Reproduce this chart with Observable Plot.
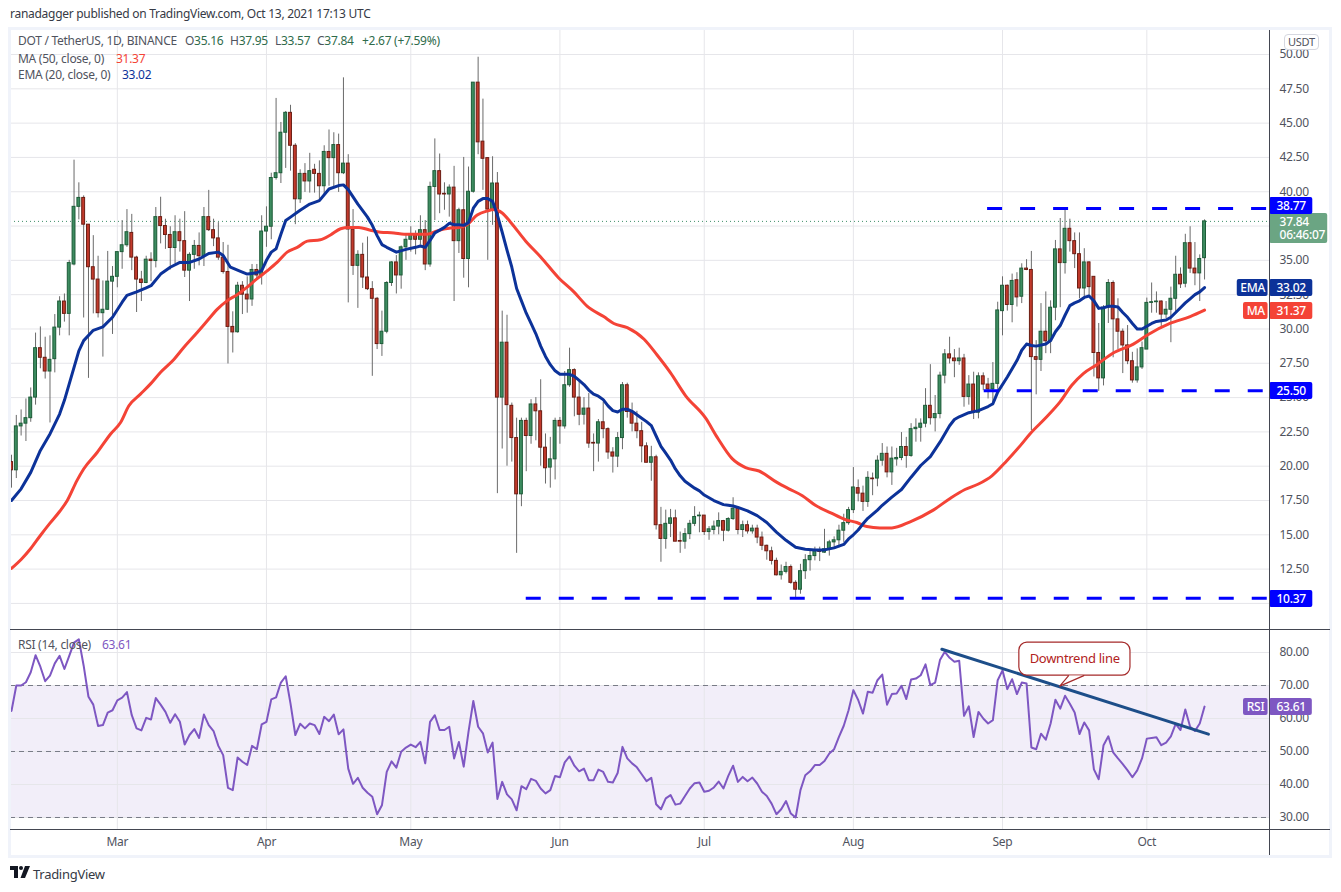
<!DOCTYPE html>
<html><head><meta charset="utf-8">
<script src="https://cdn.jsdelivr.net/npm/d3@7"></script>
<script src="https://cdn.jsdelivr.net/npm/@observablehq/plot@0.6"></script>
<style>
html,body{margin:0;padding:0;background:#fff;}
#page{position:relative;width:1341px;height:892px;overflow:hidden;font-family:"Noto Sans",sans-serif;font-size:12px;color:#50535e;letter-spacing:-0.28px;}
#page svg{position:absolute;left:0;background:transparent;}
.t{position:absolute;white-space:nowrap;z-index:5;line-height:16px;}
.ln{position:absolute;background:#434651;z-index:4;}
</style></head><body><div id="page"></div>
<script>
const opens=[20.3,19.7,22.9,23.1,23.5,25,28.6,27.9,26.9,27.8,
30.1,32,31.1,34.7,38.9,39.55,37.6,34.5,33.6,31.15,
31.4,33.45,33.8,35.6,36.1,37,35.2,33.6,33.35,35.05,
34.95,38.15,37.5,36.85,35.9,37.05,36.4,34.25,35.4,36.05,
35.3,38.15,37.2,36.6,35.2,34.15,30.15,29.76,33.15,32.5,
32.15,34.3,33.9,37.1,37.45,41,41.35,44.3,45.75,43.35,
39.45,41.3,40.75,41.6,41.3,40.4,42.9,42.45,43.4,41.35,
42.05,37.25,34.6,35.4,33.75,32.9,32.2,28.9,29.8,33.35,
34.85,33.9,35.95,36.5,36.85,36.5,37.2,34.7,40.35,41.5,
39.85,39.8,40.3,36.4,38.65,35.1,40,47.95,43.65,42.45,
38.7,40.6,25,29,24.4,22.05,17.95,23.3,22.2,24.5,
24,21.35,19.9,20.5,23.3,22.9,25.9,27,25,23.75,
24.2,21.7,21.65,23.2,22.7,21,20.7,22.05,25.9,23.95,
23.1,22.55,21.45,20.25,20.65,15.7,14.7,15.8,16.2,14.55,
14.5,15.05,15.8,16.35,16.4,15.2,15.35,15.6,16,15.3,
16.15,16.9,15.35,15.7,15.25,15.45,14.8,14.2,13.8,13.1,
12.05,12.3,12.65,11.5,11,12.35,13.15,13.45,13.85,13.7,
13.95,14.45,14.6,15.3,15.85,16.8,18.4,18,17.4,19.1,
19.1,20.4,20.9,19.55,20.5,20.6,21.4,20.75,22.7,22.8,
23.1,24.4,23.5,23.8,26.6,28.15,27.85,27.65,27.85,25.05,
25.95,23.9,26.55,25.95,25.6,26,31.3,33.15,31.75,33.55,
32.35,34.4,34.3,27.95,27.75,29.8,29.1,31.55,35.8,34.8,
37.3,36.4,35.45,32.95,34.85,33.8,28.25,26.4,31.55,33.35,
30.7,29.8,28.8,27.65,26.25,27.2,28.5,31.9,31.95,32,
31.05,31.4,32.2,33.95,33.3,36.25,34.4,34.05,35.16];
const closes=[19.7,22.9,23.1,23.5,25,28.6,27.9,26.9,27.75,30.1,
32,31.1,34.8,38.9,39.55,37.6,34.5,33.6,31.15,31.4,
33.45,33.8,35.6,36.1,37.05,35.2,33.6,33.35,35.05,34.95,
38.15,37.5,36.85,35.9,37.05,36.4,34.25,35.4,36.05,35.3,
38.15,37.2,36.6,35.2,34.15,30.15,29.75,33.15,32.5,32.15,
34.3,33.9,37.1,37.45,41,41.35,44.3,45.75,43.35,39.45,
41.3,40.75,41.5,41.3,40.4,42.9,42.45,43.4,41.35,42.05,
37.25,34.6,35.4,33.75,32.9,32.2,28.9,29.8,33.35,34.85,
33.9,35.95,36.5,36.85,36.5,37.2,34.7,40.35,41.5,39.8,
39.8,40.3,36.4,38.65,35.1,40,47.95,43.6,42.4,38.7,
40.6,25,29,24.45,22.05,17.95,23.3,22.2,24.5,24,
21.35,19.85,20.5,23.3,22.9,25.9,27,25,23.75,24.2,
21.65,21.65,23.2,22.7,21,20.7,22.05,25.9,23.95,23.1,
22.55,21.45,20.25,20.65,15.7,14.7,15.8,16.2,14.5,14.5,
15.05,15.8,16.3,16.4,15.2,15.4,15.6,16,15.3,16.15,
16.9,15.35,15.7,15.25,15.45,14.8,14.2,13.8,13.1,12.05,
12.3,12.65,11.5,11,12.35,13.15,13.45,13.8,13.75,13.95,
14.45,14.6,15.3,15.85,16.8,18.45,18,17.4,19.15,19.05,
20.4,20.9,19.55,20.55,20.6,21.4,20.75,22.7,22.8,23.1,
24.4,23.5,23.8,26.6,28.15,27.85,27.65,27.85,25.05,25.95,
23.9,26.55,25.95,25.6,26,31.35,33.15,31.75,33.5,32.3,
34.4,34.3,27.95,27.75,29.8,29.1,31.55,35.8,34.8,37.3,
36.4,35.45,32.95,34.85,33.05,28.25,26.4,31.55,33.35,30.7,
29.8,28.8,27.65,26.25,27.2,28.6,31.9,31.95,32,31.05,
31.4,32.2,33.95,33.25,36.25,34.4,34.05,35.1,37.84];
const highs=[20.8,23.7,24.1,24.9,25.7,29.7,30.15,29.4,29.5,31.05,
32.35,32.55,35,42.3,40.65,39.7,37.6,36.8,35.3,33.5,
35.65,34.55,35.6,37.9,38.7,38.35,35.3,34.2,35.3,35.55,
38.85,39.6,38,37.45,38.25,38,38.55,35.55,36.45,37,
38.85,40.1,38,37.75,36.3,36.1,31.25,33.4,33.45,33.8,
34.7,34.7,38.25,38.9,41.35,46.8,45.05,45.85,46.3,43.5,
41.6,42.05,42.8,42,42.25,43.35,44.5,44.3,44.2,48.3,
42.7,38.7,35.7,36.25,36.7,33.45,32.3,31.3,33.45,34.9,
35.35,36.05,36.95,37.45,37.15,38.25,37.9,40.7,43.85,42.75,
40.65,40.5,41.85,38.8,42.5,41.8,47.95,49.8,46.75,42.45,
42.55,41.4,31.3,31,24.6,23.5,23.5,23.5,24.85,25,
26.3,22.35,22.1,23.5,23.55,26.9,28.6,27.1,26.2,25,
25.3,22.35,23.4,24.65,22.8,21.35,22.45,26.1,26.05,24.6,
24,23.2,21.7,21.45,20.8,17,16.8,16.85,16.8,15.2,
15.45,16.05,17.05,16.65,16.4,15.6,16,16.6,16.05,16.25,
17.7,17,16,16,15.7,15.7,15.2,14.25,14.1,13.3,
12.8,13,12.8,11.65,12.85,13.55,13.85,14.1,14.1,15.4,
14.6,14.85,15.7,16.5,17,19.9,19,18.55,19.6,19.5,
20.75,21.65,21.4,21.4,21.3,22.45,22.1,23.1,23.45,23.45,
25.65,27.4,25.15,26.85,28.5,29.4,28.5,28.6,28.15,26.6,
26.85,26.8,26.8,26.4,27.55,31.95,33.8,33.2,34,34.1,
34.75,35.05,35.65,29.15,31.85,32.7,32.05,36.45,38.05,38.75,
38,37,37,35.85,34.9,33.8,30.4,31.7,33.6,33.5,
32.2,30,30.25,28.3,28.55,29.05,32.25,33.35,32.7,32.05,
32,33.05,35.3,34.45,36.9,37.45,36.3,35.4,37.95];
const lows=[18.4,19.1,22.2,21.8,23.2,24.45,27.1,26.35,23.15,26.8,
29.5,30.5,29.5,34.6,37.95,30.8,26.4,31.1,30.8,27.95,
31.35,29.6,33,34.35,35.95,34.25,31.2,32,33.3,33.45,
34.45,36.2,35.8,34.3,34.75,35.6,33.75,32,34.35,34.6,
34.55,37.1,36,35,34,27.45,28.25,29.7,31.05,31.15,
31.65,33.6,33.2,35.95,36.5,40.85,40.6,41.7,41.5,37.6,
39.15,39.95,39.9,39.9,39.3,39.7,40.4,40.3,39.95,41.25,
31.9,33.9,31.5,32.95,32.8,26.55,28.5,28,29.65,33.1,
32.55,32.9,35,35.6,35.4,36.1,34.25,34.5,37.9,38.4,
38.65,38.15,32,35.5,33.7,33,39.9,42.7,40.1,35,
37.55,18,21.25,20,20.3,13.65,17.05,19.6,21.6,21.85,
20,18.7,18.4,19,21.6,22.7,25.75,23.6,22.95,23,
21.3,19.6,20.3,22,20.5,19.5,19.9,21.2,23.5,22.5,
22,20.25,20.25,18.9,15.35,13,13.95,14.8,14.5,13.65,
13.95,14.65,15.6,15.15,14.95,14.6,15,15,14.5,15.2,
16.05,15,14.8,15.05,15.05,14.35,13.85,13.15,12.8,12,
11.7,12.15,11.4,10.37,10.67,11.75,12.35,13.1,13.05,13.65,
13.45,14,14.05,14.45,15.7,16.55,17.4,16.7,17,17.85,
18.5,20,19.15,18.6,20,20.4,19.85,20.65,21.75,21.75,
22.8,23,22.5,23.45,26,27.45,26.45,27.35,24.3,24.45,
23.4,23.45,25.5,24.9,24.4,25.6,29.5,31.3,30.45,31.6,
31.85,34.25,22.6,25.2,26.9,28.2,28.2,30.6,31.55,34,
35.6,34.4,32.2,32.3,32.3,26.5,25.45,25.85,30.4,27.9,
28.5,26.75,27.4,26.05,26.05,27.05,28.5,31.15,31.15,30,
30.75,29,31.2,32.95,33,34.05,33.15,32,33.57];
const rsiValues=[62.3,70,70,71,74,79.2,75.7,71.3,73,76.7,
79,75,79,83,84,76,66.6,64.2,57.7,58,
61.8,62.5,65.5,66.3,68,61,57,56.4,60.2,59.7,
66.2,64.2,62,58.7,61.3,59,52.1,55,56.8,54.1,
61.2,58,56.2,51.7,48.9,39,38.3,48.2,46.9,45.9,
51.7,50.7,58.2,59,65.8,66.4,70.9,72.8,64.5,55,
58.4,57,58.5,58,55.3,60.5,59.2,61.2,55.2,56.7,
44.8,40.2,42,39,37.5,36.3,31,33.7,43.8,47,
45.1,49.9,51.2,52.1,51.3,52.9,46.4,59,61,56.5,
56.5,57.5,47.9,52.9,45.4,56,65.3,57.5,55.5,49.7,
52.7,35.6,40.8,37,35.5,32.2,39.5,38.6,41.7,41.1,
38.8,37.3,38.3,42.6,42.2,46.7,48.5,45.7,44,44.8,
41.3,41.3,44.5,43.8,40.8,40.6,43.5,51.4,47.9,46.4,
45.2,43.1,41,42,34,32.5,35.8,36.8,33.9,34.2,
36.5,38.8,40.4,40.6,37.8,38.1,39.1,40.9,38.8,42.6,
45.7,40.8,42.3,41,42.1,40.3,37.8,36.5,34.2,31,
32.5,35,31.2,30,38.3,42.8,44,45.9,45.9,47.1,
49.4,50.7,54.4,57.8,62.5,68.6,65.6,61.5,68.1,67.8,
71.6,73.3,64.2,67.4,67.6,69.9,65.9,71.8,72.1,73.1,
76.4,70.1,70.9,77.7,80.2,78.4,77.2,77.5,60.8,63.7,
54.4,62,60,58.5,59.5,71.6,74.6,68.9,71.9,67.4,
70.9,70.6,51.2,50.7,55.4,53.6,58.5,65.7,63,66.9,
64.5,61.8,55.3,58.8,56.4,44.6,41.6,51.9,54.6,49.7,
47.9,46.2,44.3,42.2,44.3,47.9,53.9,54.1,54.3,51.9,
52.7,54.6,58.4,56.5,62.7,57.5,56.2,58.5,63.61];
const emaDays=[0,2,4,6,8,10,11,12,13,14,15,17,19,21,23,24,26,28,29,31,33,35,37,39,41,43,44,45.5,47.6,49,50,51,52,53,54,55,56,57,58,60,62,64,66,68,69,70,72,74,75,76,77,78,80,82,84,85,86,87,88,90,91,92,93,94,95,96,97,98,99,100,101,102,103,104,105,106,107,108,109,110,111,112,113,114,115,116,117,118,119,120,121,122,123,124,125,126,127,128,129,130,131,132,133,134,135,136,137,138,139,140,141,142,143,144,146,148,149,150,151,153,155,157,159,161,163,165,167,169,171,173,174,175,176,177,178,180,181,183,185,187,189,191,193,195,196,197,199,201,203,204,205,207,209,210,211,212,213,215,216,217,218,219,220,221,222,223,224,225,226,227,228,229,230,231,232,233,234,235,236,237,238,239,240,241,242,243,244,245,246,247,248];
const emaValues=[17.5,18.35,19.55,21.15,22.35,23.8,24.8,26,27.2,28.4,29.15,29.9,30.15,30.85,31.95,32.45,32.7,33,33.15,34,34.5,34.85,34.85,35.1,35.5,35.6,35.35,34.5,34.2,34,34.05,34.1,34.25,35,35.6,35.85,36.9,37.9,38.15,38.65,39.1,39.35,40.2,40.45,40.5,40.15,39.1,38.15,37.55,36.8,36.15,35.95,35.6,35.8,35.95,36.05,35.95,36.45,37,37.4,37.7,37.6,37.6,37.55,37.75,38.8,39.3,39.5,39.5,39.3,38.3,37.05,35.75,34.5,32.95,32.05,31.15,30.4,29.65,28.75,28,27.4,26.95,26.7,26.7,26.7,26.55,26.25,25.95,25.55,25.25,25.1,24.85,24.4,24.05,23.95,24.15,24.15,24,23.75,23.5,23.25,22.95,22.2,21.45,20.95,20.45,19.8,19.3,18.9,18.65,18.4,18.2,17.9,17.5,17.2,17.15,17.1,17,16.75,16.4,15.9,15.2,14.6,14.1,13.95,13.9,13.9,14.05,14.3,14.7,15,15.35,15.8,16.2,16.8,17.15,17.75,18.3,19.2,20.05,20.7,21.75,22.95,23.4,23.6,23.9,24.05,24.35,24.55,25.4,26.5,27.7,28.45,28.9,28.8,28.75,28.9,29.15,29.8,30.25,31,31.7,31.9,32.05,32.3,32.4,32.05,31.5,31.55,31.65,31.65,31.6,31.2,30.85,30.4,30,30,30.2,30.4,30.55,30.6,30.65,30.85,31.2,31.55,31.9,32.2,32.5,32.7,33.02];
const maDays=[0,2,4,6,8,10,11.6,13.6,15,17.8,20.6,22.7,24.4,26.8,28.9,31,33.8,35.8,38.6,40.7,42.8,44.8,46.9,49,51,53.2,55.2,57.3,59.4,61.5,64.2,66.3,68.4,70.1,72.2,74.6,76.7,79.5,81.6,84,86.4,88.5,91.3,93,94.7,96.8,98.9,100.3,102,103.7,106.9,110,113.8,116.9,119.7,123.1,125.2,128,131.5,134.2,137,140.1,144.3,146.7,149.8,152.6,155.4,159.2,161.6,164.4,167.1,170.3,173.4,175.7,177.8,180.5,183,186.8,191.6,195.1,198.2,201,203.8,206.9,209.7,211.7,215.2,218,220.4,222.8,225.6,229,233.2,236.3,240.8,245,248];
const maValues=[12.55,13.2,14,14.95,15.85,16.7,17.5,18.95,19.8,21,22.35,23.2,24.4,25.25,26,26.85,27.8,28.65,29.75,30.6,31.45,32.05,32.5,33.05,33.65,34.25,34.85,35.6,35.95,36.4,36.5,36.85,37.3,37.4,37.4,37.2,37.05,37,36.9,36.9,36.9,37.15,37.35,37.4,37.6,38.3,38.6,38.7,38.45,37.8,36.4,35.25,33.7,32.7,31.65,30.9,30.4,30.1,29.25,28.1,26.8,25.15,23.5,22.1,20.55,19.9,19.65,18.8,18.35,17.85,17.15,16.6,16.1,15.9,15.6,15.5,15.5,15.95,16.8,17.65,18.3,18.7,19.3,20.4,21.5,22.35,23.6,24.7,25.9,26.75,27.4,28.25,28.9,29.6,30.4,30.9,31.37];

const levelPrices=[38.77,25.5,10.37];
const levelStartDays=[202.9,202.2,107];
const priceTicks=[10,12.5,15,17.5,20,22.5,25,27.5,30,32.5,35,37.5,40,42.5,45,47.5,50];
const priceLabelTicks=[12.5,15,17.5,20,22.5,25,27.5,30,32.5,35,40,42.5,45,47.5,50];
const rsiTicks=[30,40,50,60,70,80];
const rsiBands=[30,50,70];
const monthLabels=[[2,1],[3,1],[4,1],[5,1],[6,1],[7,1],[8,1],[9,1]].map(([m,d])=>new Date(Date.UTC(2021,m,d)));
const trendDays=[193.4,248.8];
const trendRsi=[81,55.25];
const pointerDays=[219.75,217.9,222.9];
const pointerRsi=[73,69.8,73];

const DAY=864e5, START=Date.UTC(2021,1,7);
const at=i=>new Date(START+i*DAY);
const font='"Noto Sans",sans-serif';
const xDomain=[at(-0.208),at(261.5)];
const GREEN="#3d8c60",GREENB="#1d5c38",RED="#c23a2c",REDB="#6b1c12",GRID="#e6e6ea";
const candles=opens.map((o,i)=>({i,o,c:closes[i],h:highs[i],l:lows[i]}));
const up=d=>d.c>=d.o;

const page=document.getElementById("page");

const tagRows=[
 {t:"38.77",p:38.96,x1:261.5,x2:270.5,fill:"#0000ff"},
 {t:"25.50",p:25.48,x1:261.5,x2:270.5,fill:"#0000ff"},
 {t:"10.37",p:10.33,x1:261.5,x2:270.5,fill:"#0000ff"},
 {t:"33.02",p:32.99,x1:261.5,x2:270.5,fill:"#0c3299"},
 {t:"31.37",p:31.31,x1:261.5,x2:270.5,fill:"#f44336"},
 {t:"EMA",p:32.99,x1:254.8,x2:261.2,fill:"#0c3299"},
 {t:"MA",p:31.31,x1:256.1,x2:261.2,fill:"#f44336"}];

const main=Plot.plot({
  width:1341,height:600,marginLeft:10,marginRight:72,marginTop:0,marginBottom:1,
  style:{fontFamily:font,fontSize:"12px",color:"#50535e",background:"transparent",overflow:"visible"},
  x:{type:"utc",domain:xDomain,axis:null},
  y:{domain:[51.75,8.1],range:[0,599]},
  color:{type:"identity"},
  marks:[
    Plot.gridX(monthLabels,{stroke:GRID,strokeOpacity:1,strokeWidth:1}),
    Plot.gridY(priceTicks,{stroke:GRID,strokeOpacity:1,strokeWidth:1}),
    Plot.axisY({anchor:"right",ticks:priceLabelTicks,tickFormat:d3.format(".2f"),tickSize:0,tickPadding:10,label:null,fill:"#50535e"}),
    Plot.ruleY([closes[248]],{stroke:"#3f8f68",strokeWidth:1,strokeDasharray:"1,3"}),
    Plot.ruleX(candles,{x:d=>at(d.i),y1:"l",y2:"h",stroke:"#6a6a6a",strokeWidth:1}),
    Plot.rect(candles,{x1:d=>at(d.i-0.3),x2:d=>at(d.i+0.3),y1:"o",y2:"c",fill:d=>up(d)?GREEN:RED,stroke:d=>up(d)?GREENB:REDB,strokeWidth:1}),
    Plot.line(maDays.map((d,i)=>({d,v:maValues[i]})),{x:d=>at(d.d),y:"v",stroke:"#f44336",strokeWidth:3,curve:"monotone-x"}),
    Plot.line(emaDays.map((d,i)=>({d,v:emaValues[i]})),{x:d=>at(d.d),y:"v",stroke:"#0c3299",strokeWidth:3}),
    Plot.ruleY(levelPrices.map((p,i)=>({p,s:levelStartDays[i]})),{y:"p",x1:d=>at(d.s),x2:()=>at(261.5),stroke:"#0000ff",strokeWidth:3,strokeDasharray:"15,18"}),
    Plot.rect([{a:261.5,b:273.6,t:38.42,u:36.23}],{x1:d=>at(d.a),x2:d=>at(d.b),y1:"t",y2:"u",fill:"#6ba583",rx:2}),
    Plot.text([{s:"37.84",p:37.76},{s:"06:46:07",p:36.81}],{x:()=>at(263.6),y:"p",text:"s",fill:"white",fontSize:12,fontWeight:500,textAnchor:"start"}),
    Plot.rect(tagRows,{x1:d=>at(d.x1),x2:d=>at(d.x2),y1:d=>d.p+0.62,y2:d=>d.p-0.62,fill:"fill",rx:2}),
    Plot.text(tagRows,{x:d=>at((d.x1+d.x2)/2),y:"p",text:"t",fill:"white",fontSize:12,fontWeight:500})
  ]
});
main.style.top="30px";
page.appendChild(main);

const tagX1=261.5,tagX2=270.4;
const rsiPlot=Plot.plot({
  width:1341,height:227,marginLeft:10,marginRight:72,marginTop:0,marginBottom:27,
  style:{fontFamily:font,fontSize:"12px",color:"#50535e",background:"transparent",overflow:"visible"},
  x:{type:"utc",domain:xDomain},
  y:{domain:[86.67,26.36],range:[0,199]},
  marks:[
    Plot.rect([{a:30,b:70}],{x1:()=>xDomain[0],x2:()=>xDomain[1],y1:"a",y2:"b",fill:"#7e57c2",fillOpacity:0.1}),
    Plot.gridX(monthLabels,{stroke:GRID,strokeOpacity:1,strokeWidth:1}),
    Plot.gridY(rsiTicks,{stroke:GRID,strokeOpacity:1,strokeWidth:1}),
    Plot.ruleY(rsiBands,{stroke:"#787b86",strokeWidth:1,strokeDasharray:"5,4"}),
    Plot.axisY({anchor:"right",ticks:rsiTicks,tickFormat:d3.format(".2f"),tickSize:0,tickPadding:10,label:null,fill:"#50535e"}),
    Plot.axisX({anchor:"bottom",ticks:monthLabels,tickFormat:d3.utcFormat("%b"),tickSize:0,tickPadding:7,label:null,fill:"#50535e"}),
    Plot.line(rsiValues.map((v,i)=>({i,v})),{x:d=>at(d.i),y:"v",stroke:"#7e57c2",strokeWidth:2}),
    Plot.line(trendDays.map((d,i)=>({d,v:trendRsi[i]})),{x:d=>at(d.d),y:"v",stroke:"#1d4e89",strokeWidth:3}),
    Plot.rect([{a:209.5,b:232.6,t:83,u:73}],{x1:d=>at(d.a),x2:d=>at(d.b),y1:"t",y2:"u",fill:"white",stroke:"#a52a2a",strokeWidth:1.2,rx:8}),
    Plot.line(pointerDays.map((d,i)=>({d,v:pointerRsi[i]})),{x:d=>at(d.d),y:"v",fill:"white",stroke:"#a52a2a",strokeWidth:1.2}),
    Plot.text([{s:"Downtrend line",d:221,v:78.2}],{x:d=>at(d.d),y:"v",text:"s",fill:"#b22222",fontSize:13}),
    Plot.rect([{a:tagX1,b:tagX2,t:66.06,u:60.9}],{x1:d=>at(d.a),x2:d=>at(d.b),y1:"t",y2:"u",fill:"#7e57c2",rx:2}),
    Plot.rect([{a:256.1,b:261.2,t:66.06,u:60.9}],{x1:d=>at(d.a),x2:d=>at(d.b),y1:"t",y2:"u",fill:"#7e57c2",rx:2}),
    Plot.text([{s:"63.61",d:266},{s:"RSI",d:258.6}],{x:d=>at(d.d),y:()=>63.48,text:"s",fill:"white",fontSize:12,fontWeight:500})
  ]
});
rsiPlot.style.top="630px";
page.appendChild(rsiPlot);

function txt(html,left,top,extra){const e=document.createElement("div");e.className="t";e.style.left=left+"px";e.style.top=top+"px";if(extra)e.style.cssText+=extra;e.innerHTML=html;page.appendChild(e);}
function line(l,t,w,h,c){const e=document.createElement("div");e.className="ln";e.style.cssText+=`left:${l}px;top:${t}px;width:${w}px;height:${h}px;`+(c?`background:${c};`:"");page.appendChild(e);}
// frame
line(8,27,1324,3,"#f0f3fa");line(8,27,3,831,"#f0f3fa");line(1329,27,3,831,"#f0f3fa");line(8,855,1324,3,"#f0f3fa");
line(10,629,1320,1);line(10,829,1320,1);line(1269,30,1,825);

txt("ranadagger published on TradingView.com, Oct 13, 2021 17:13 UTC",10,6,"color:#363a45;");
const g="color:#2f6b4b";
txt(`DOT / TetherUS, 1D, BINANCE`,18,33);
txt(`O<span style="${g}">35.16</span>`,185,33);
txt(`H<span style="${g}">37.95</span>`,230,33);
txt(`L<span style="${g}">33.57</span>`,275,33);
txt(`C<span style="${g}">37.84</span>`,317,33);
txt(`<span style="${g}">+2.67 (+7.59%)</span>`,362,33);
txt(`MA (50, close, 0)`,18,51);txt(`<span style="color:#f44336">31.37</span>`,116,51);
txt(`EMA (20, close, 0)`,18,67);txt(`<span style="color:#0c3299">33.02</span>`,122,67);
txt(`RSI (14, close)`,18,637);txt(`<span style="color:#7e57c2">63.61</span>`,102,637);
txt("USDT",1284,34,"background:#fff;border:1px solid #d6d8e0;border-radius:4px;padding:0 3px;font-size:11px;line-height:14px;");
txt("TradingView",33,866,"font-size:13px;color:#363a45;");
txt(`<svg width="20" height="12" viewBox="0 0 20 12" style="position:static"><path d="M0 0h8v12H4V4H0z" fill="#131722"/><circle cx="11" cy="2" r="2" fill="#131722"/><path d="M15 0h5l-5 12h-4.500z" fill="#131722"/></svg>`,10,866);
</script></body></html>
